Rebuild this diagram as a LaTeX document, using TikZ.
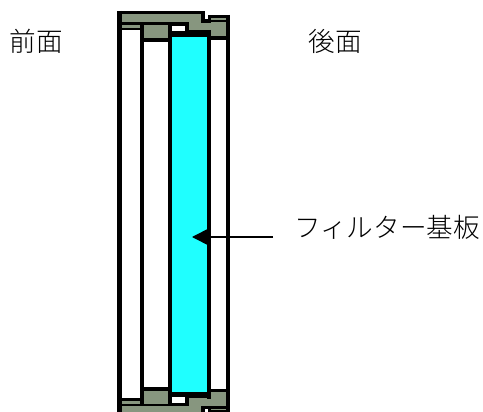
\documentclass[tikz,border=0pt]{standalone}
\usepackage{fontspec}
\usetikzlibrary{arrows.meta}
\newfontfamily\jpfont{Noto Sans CJK JP Light}
\definecolor{housing}{HTML}{87967F}
\definecolor{glass}{HTML}{1FFFFF}
\newcommand{\housinghalf}{%
    \path[edge,fill=housing] (119.5,12.5) -- (203,12.5) -- (203,21) -- (209.5,21) -- (209.5,16.5)
      -- (227.5,16.5) -- (227.5,38) -- (209,38) -- (209,32) -- (187,32) -- (187,24) -- (119.5,24) -- cycle;
    \draw[black,line width=2.5pt] (207,21) -- (227,21);
    \path[fill=housing] (121,25) rectangle (140,28);
    \draw[black,line width=2.2pt] (120,29) -- (142,29);
    \path[fill=housing] (144,25) rectangle (168,38);
    \draw[black,line width=4pt] (142,40) -- (170,40);
    \draw[black,line width=5.4pt] (170,34) -- (209,34);
}
\tikzset{
  edge/.style={draw=black,line width=3.2pt,line join=miter},
  bar/.style={draw=black,line width=4.4pt},
  lbl/.style={inner sep=0pt,anchor=west,font=\jpfont\fontsize{26.6}{30}\selectfont,text=black},
  pointer/.style={draw=black,line width=1.6pt,-{Triangle[length=16pt,width=16pt]}},
}
\begin{document}
\begin{tikzpicture}[x=1pt,y=-1pt]
\useasboundingbox (0,0) rectangle (483,412);
\clip (0,0) rectangle (483,412);
\fill[white] (0,0) rectangle (483,412);
\fill[glass] (172,36) rectangle (207,392);
\housinghalf
\begin{scope}[yshift=-428.5pt,yscale=-1]
\housinghalf
\end{scope}
\draw[bar,line width=5pt] (119.5,11) -- (119.5,418);
\draw[bar] (142,24) -- (142,404.5);
\draw[bar] (170,24) -- (170,404.5);
\draw[bar] (209,30) -- (209,398.5);
\draw[bar] (227.7,15) -- (227.7,413.5);
\node[lbl] (front) at (9.5,41.5) {前面};
\node[lbl] (back) at (308.5,41.5) {後面};
\node[lbl] (sub) at (294,227) {フィルター基板};
\coordinate (tail) at (273,237);
\coordinate (tip) at (192,237);
\draw[pointer] (tail) -- (tip);
\end{tikzpicture}
\end{document}
